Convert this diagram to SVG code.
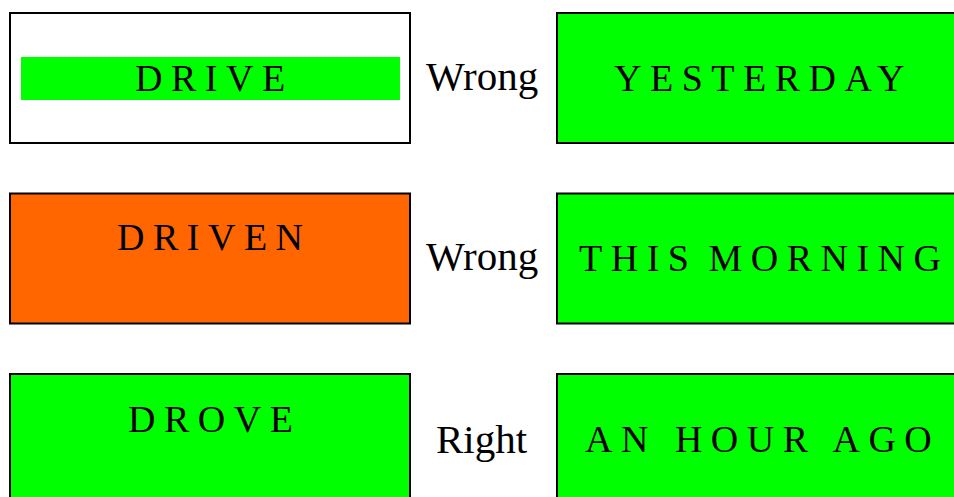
<svg xmlns="http://www.w3.org/2000/svg" width="954" height="497" viewBox="0 0 954 497">
<style>
.box{stroke:#000;stroke-width:2}
.green{fill:#00ff00}
.orange{fill:#ff6600}
.white{fill:#fff}
.word{font-family:"Liberation Serif","Times New Roman",serif;font-size:38px;letter-spacing:8.5px;fill:#000}
.lbl{font-family:"Liberation Serif","Times New Roman",serif;font-size:41px;fill:#000}
</style>
<rect width="954" height="497" fill="#fff"/>
<g id="drive">
<rect class="box white" x="10" y="13" width="400" height="130"/>
<rect class="green" x="21" y="57" width="379" height="43"/>
<text class="word" x="135" y="91">DRIVE</text>
</g>
<g id="yesterday">
<rect class="box green" x="557" y="13" width="400" height="130"/>
<text class="word" x="614" y="91">YESTERDAY</text>
</g>
<g id="driven">
<rect class="box orange" x="10" y="193.5" width="400" height="130"/>
<text class="word" x="117" y="250">DRIVEN</text>
</g>
<g id="this-morning">
<rect class="box green" x="557" y="193.5" width="400" height="130"/>
<text class="word" x="579" y="271" word-spacing="-7">THIS MORNING</text>
</g>
<g id="drove">
<rect class="box green" x="10" y="374" width="400" height="130"/>
<text class="word" x="128" y="431.5">DROVE</text>
</g>
<g id="an-hour-ago">
<rect class="box green" x="557" y="374" width="400" height="130"/>
<text class="word" x="585" y="452">AN HOUR AGO</text>
</g>
<g id="labels">
<text class="lbl" x="426" y="90">Wrong</text>
<text class="lbl" x="426" y="270">Wrong</text>
<text class="lbl" x="436" y="453" font-size="43">Right</text>
</g>
</svg>
